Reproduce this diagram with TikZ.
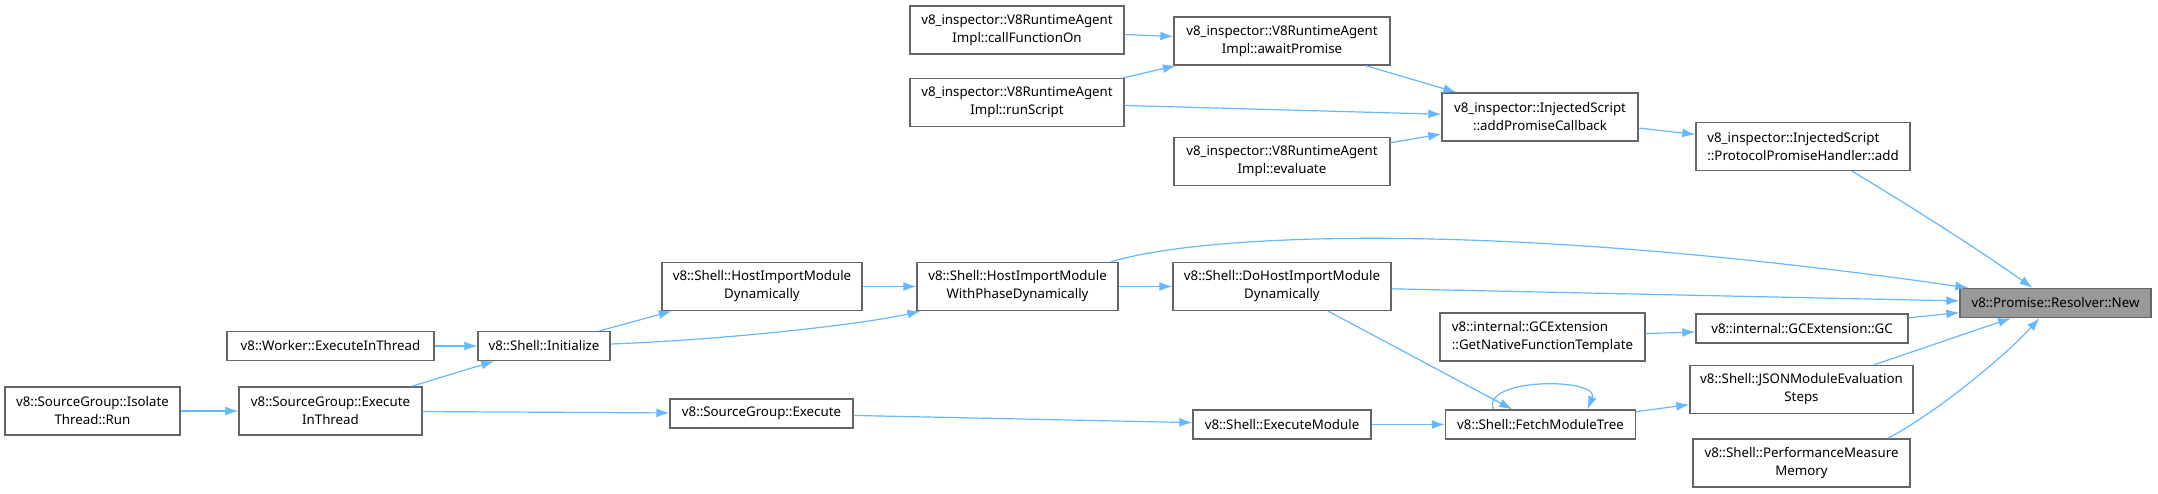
\documentclass[tikz,border=0pt]{standalone}
\usepackage{fontspec}
\setmainfont{Noto Sans}
\usetikzlibrary{arrows.meta,positioning}
\definecolor{edgeblue}{HTML}{63B8FF}
\definecolor{boxgray}{HTML}{666666}
\definecolor{rootgray}{HTML}{999999}

\begin{document}
\begin{tikzpicture}[x=1pt, y=-1pt,
    every node/.style={font=\fontsize{13.3}{18}\selectfont},
    fn/.style={draw=boxgray, line width=1.3pt, fill=white, align=center, inner xsep=5pt, inner ysep=4pt, minimum height=29pt},
    fnt/.style={fn, minimum height=48pt},
    root/.style={fn, fill=rootgray},
    call/.style={draw=edgeblue, line width=1.2pt, -{Latex[length=13pt,width=9pt]}}]
    \useasboundingbox (0,0) rectangle (2158,494);

    % left part
    \node[fnt, minimum width=175pt] (run) at (92.5,411) {v8::SourceGroup::Isolate\\Thread::Run};
    \node[fnt, minimum width=183pt] (sgeit) at (330.5,411) {v8::SourceGroup::Execute\\InThread};
    \node[fn, minimum width=207pt] (worker) at (330.5,346) {v8::Worker::ExecuteInThread};
    \node[fn, minimum width=132pt] (init) at (544,346) {v8::Shell::Initialize};
    \node[fnt, minimum width=200pt] (himd) at (762,286.5) {v8::Shell::HostImportModule\\Dynamically};
    \node[fn, minimum width=183pt] (sgexec) at (761.5,413.5) {v8::SourceGroup::Execute};

    % inspector part
    \node[fnt, minimum width=214pt] (callfn) at (1017,30) {v8\_inspector::V8RuntimeAgent\\Impl::callFunctionOn};
    \node[fnt, minimum width=214pt] (runscr) at (1017,102.5) {v8\_inspector::V8RuntimeAgent\\Impl::runScript};
    \node[fnt, minimum width=216pt] (await) at (1282,41) {v8\_inspector::V8RuntimeAgent\\Impl::awaitPromise};
    \node[fnt, minimum width=216pt] (evalu) at (1282,161.5) {v8\_inspector::V8RuntimeAgent\\Impl::evaluate};
    \node[fnt, minimum width=196pt] (apc) at (1540,117) {v8\_inspector::InjectedScript\\::addPromiseCallback};
    \node[fnt, minimum width=214pt, align=left] (pph) at (1803,146.5) {v8\_inspector::InjectedScript\\::ProtocolPromiseHandler::add};

    % shell part
    \node[fnt, minimum width=201pt] (wphase) at (1017.5,286.5) {v8::Shell::HostImportModule\\WithPhaseDynamically};
    \node[fnt, minimum width=218pt] (dohimd) at (1282,286.5) {v8::Shell::DoHostImportModule\\Dynamically};
    \node[fn, minimum width=178pt] (execmod) at (1282,424.5) {v8::Shell::ExecuteModule};
    \node[fn, minimum width=190pt] (fetch) at (1540.5,424.5) {v8::Shell::FetchModuleTree};
    \node[fnt, minimum width=205pt, align=left] (native) at (1542.5,337) {v8::internal::GCExtension\\::GetNativeFunctionTemplate};
    \node[fn, minimum width=212pt] (gc) at (1802,328.5) {v8::internal::GCExtension::GC};
    \node[fnt, minimum width=223pt] (json) at (1801.5,389.5) {v8::Shell::JSONModuleEvaluation\\Steps};
    \node[fnt, minimum width=217pt] (perf) at (1801.5,463) {v8::Shell::PerformanceMeasure\\Memory};
    \node[root, minimum width=191pt] (new) at (2055.5,303) {v8::Promise::Resolver::New};

    \draw[call] (run) -- (sgeit);
    \draw[call] (sgeit) -- (init);
    \draw[call] (sgeit) -- (sgexec);
    \draw[call] (worker) -- (init);
    \draw[call] (init) -- (himd);
    \draw[call] ([yshift=2pt]init.east) .. controls (720,340) and (860,325) .. ([xshift=4pt]wphase.south west);
    \draw[call] (himd) -- (wphase);
    \draw[call] (wphase) -- (dohimd);
    \draw[call] ([xshift=-8pt]wphase.north east) .. controls (1200,235) and (1480,218) .. ([xshift=9pt]new.north west);
    \draw[call] (dohimd) -- (new);
    \draw[call] (dohimd) -- (fetch);
    \draw[call] (sgexec) -- (execmod);
    \draw[call] (execmod) -- (fetch);
    \draw[call] ([xshift=-47pt]fetch.north) .. controls ([xshift=-60pt,yshift=32pt]fetch.north) and ([xshift=60pt,yshift=32pt]fetch.north) .. ([xshift=47pt]fetch.north);
    \draw[call] (fetch) -- (json);
    \draw[call] (native) -- (gc);
    \draw[call] (gc) -- (new);
    \draw[call] (json) -- (new);
    \draw[call] ([xshift=86pt]perf.north) .. controls (1935,414) and (2005,356) .. ([xshift=-16pt]new.south);
    \draw[call] ([xshift=49pt]pph.south) .. controls (1920,212) and (1985,254) .. ([xshift=-23pt]new.north);
    \draw[call] (apc) -- (pph);
    \draw[call] (await) -- (apc);
    \draw[call] (callfn) -- (await);
    \draw[call] (runscr) -- (await);
    \draw[call] (runscr) -- (apc);
    \draw[call] (evalu) -- (apc);
\end{tikzpicture}
\end{document}
